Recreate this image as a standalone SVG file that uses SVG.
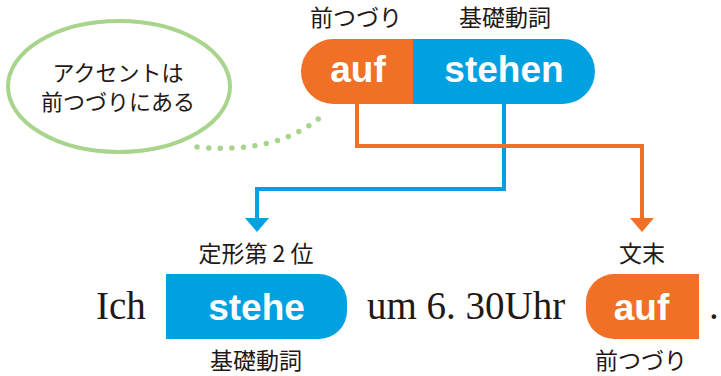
<svg xmlns="http://www.w3.org/2000/svg" width="721" height="376" viewBox="0 0 721 376">
<style>
.jp{font-family:"Noto Sans CJK JP","Noto Sans",sans-serif;fill:#231815;text-anchor:middle}
.w{font-family:"Liberation Sans",Arial,sans-serif;font-weight:bold;fill:#fff;text-anchor:middle}
.sf{font-family:"Liberation Serif","Times New Roman",serif;fill:#231815}
.or{fill:#f07125}
.bl{fill:#00a1e0}
.lo{fill:none;stroke:#f07125;stroke-width:4}
.lb{fill:none;stroke:#00a1e0;stroke-width:4}
</style>
<rect width="721" height="376" fill="#fff"/>
<g id="bubble">
<ellipse cx="119" cy="86.5" rx="111" ry="65.5" fill="#fff" stroke="#a8d48c" stroke-width="4"/>
<text class="jp" x="118" y="81" font-size="22">アクセントは</text>
<text class="jp" x="118" y="110" font-size="22">前つづりにある</text>
<path d="M197,147 Q280,155 325,113" fill="none" stroke="#a8d48c" stroke-width="5.5" stroke-linecap="round" stroke-dasharray="0 11.6"/>
</g>
<g id="top-pill">
<path class="or" d="M413,39 H333.5 A32.5,32.5 0 0 0 333.5,104 H413 Z"/>
<path class="bl" d="M413,39 H562.5 A32.5,32.5 0 0 1 562.5,104 H413 Z"/>
<text class="w" x="358" y="82" font-size="37">auf</text>
<text class="w" x="504" y="82" font-size="37">stehen</text>
<text class="jp" x="356" y="26" font-size="23">前つづり</text>
<text class="jp" x="505" y="26" font-size="23">基礎動詞</text>
</g>
<g id="connectors">
<path class="lb" d="M504,104 V189 H257 V220"/>
<polygon class="bl" points="245,218 269,218 257,232"/>
<path class="lo" d="M357,104 V146 H642 V220"/>
<polygon class="or" points="630,218 654,218 642,232"/>
</g>
<g id="ich"><text class="sf" x="96" y="319" font-size="39">Ich</text></g>
<g id="stehe">
<path class="bl" d="M166,274 H319 A28,28 0 0 1 347,302 V311 A28,28 0 0 1 319,339 H166 Z"/>
<text class="w" x="256.5" y="320" font-size="37">stehe</text>
<text class="jp" x="256" y="262" font-size="23">定形第 2 位</text>
<text class="jp" x="256" y="369" font-size="23">基礎動詞</text>
</g>
<g id="um"><text class="sf" x="367" y="319" font-size="39">um 6. 30Uhr</text></g>
<g id="auf-end">
<path class="or" d="M699,274 H614 A28,28 0 0 0 586,302 V311 A28,28 0 0 0 614,339 H699 Z"/>
<text class="w" x="641.5" y="320" font-size="37">auf</text>
<text class="jp" x="642" y="262" font-size="23">文末</text>
<text class="jp" x="641" y="369" font-size="23">前つづり</text>
</g>
<g id="dot"><text class="sf" x="709" y="319" font-size="39">.</text></g>
</svg>
